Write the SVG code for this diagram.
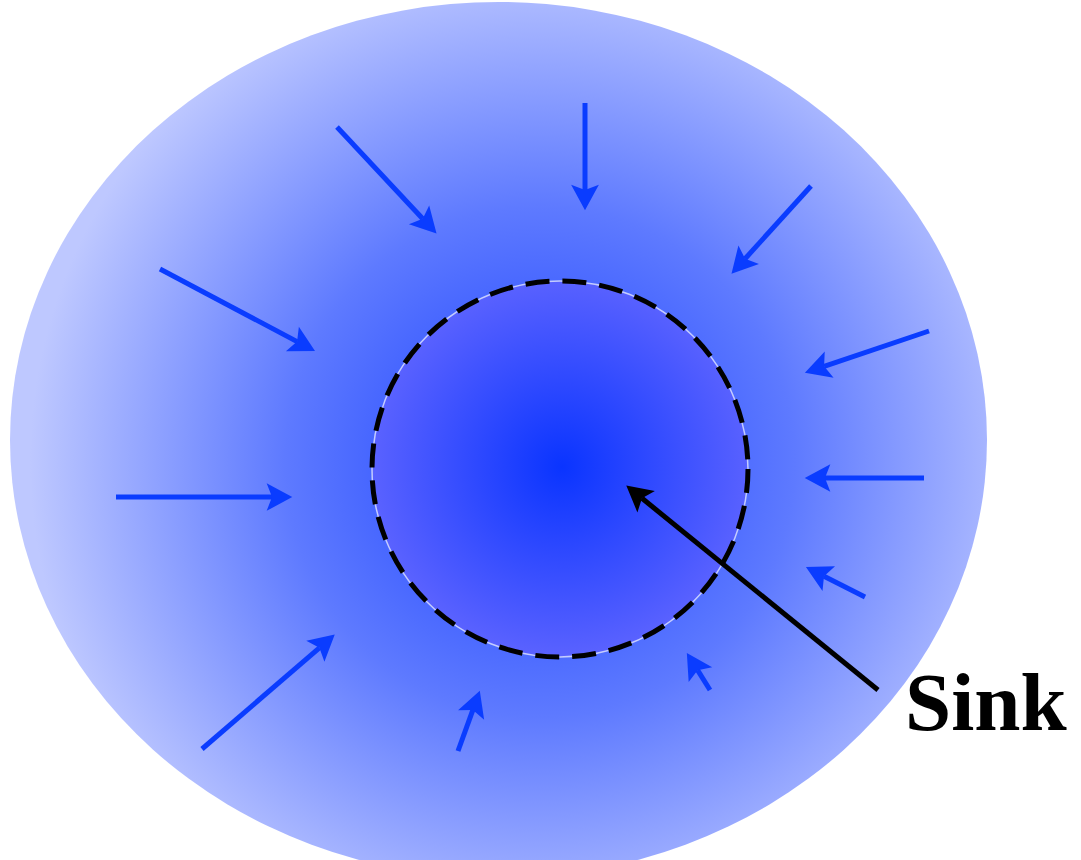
<svg xmlns="http://www.w3.org/2000/svg" width="1081" height="860" viewBox="0 0 1081 860">
  <defs>
    <radialGradient id="outerGrad" gradientUnits="userSpaceOnUse" cx="540" cy="462" r="510" fx="540" fy="462">
      <stop offset="0" stop-color="#1a40ff"/>
      <stop offset="0.5" stop-color="#5e7aff"/>
      <stop offset="1" stop-color="#bec8ff"/>
    </radialGradient>
    <radialGradient id="innerGrad" gradientUnits="userSpaceOnUse" cx="562" cy="467" r="190">
      <stop offset="0" stop-color="#0a34ff"/>
      <stop offset="1" stop-color="#5a62ff"/>
    </radialGradient>
    <marker id="blueHead" markerUnits="userSpaceOnUse" markerWidth="32" markerHeight="32" viewBox="-7 -15 28 30" refX="0" refY="0" orient="auto">
      <path d="M19,0 L-5,-13 L0,0 L-5,13 Z" fill="#0a3cff"/>
    </marker>
    <marker id="blackHead" markerUnits="userSpaceOnUse" markerWidth="32" markerHeight="32" viewBox="-7 -15 28 30" refX="0" refY="0" orient="auto">
      <path d="M19,0 L-5,-13 L0,0 L-5,13 Z" fill="#000"/>
    </marker>
    <style>
      .flow { stroke: #0a3cff; stroke-width: 5; fill: none; marker-end: url(#blueHead); }
      .pointer { stroke: #000; stroke-width: 5; fill: none; marker-end: url(#blackHead); }
      .label { font-family: "Liberation Serif", "Times New Roman", serif; font-weight: bold; font-size: 83px; fill: #000; }
    </style>
  </defs>

  <rect width="1081" height="860" fill="#ffffff"/>

  <g id="region">
    <ellipse cx="498.5" cy="440" rx="488.5" ry="438" fill="url(#outerGrad)"/>
  </g>

  <g id="sink">
    <circle cx="560" cy="469" r="188" fill="url(#innerGrad)" stroke="#c4ccff" stroke-width="1.5"/>
    <circle cx="560" cy="469" r="188" fill="none" stroke="#000" stroke-width="5" stroke-dasharray="24 13"/>
  </g>

  <g id="connectors">
    <line class="flow" x1="337" y1="127" x2="422.7" y2="218.8"/>
    <line class="flow" x1="585" y1="103" x2="585" y2="190"/>
    <line class="flow" x1="811" y1="186" x2="745.1" y2="258.7"/>
    <line class="flow" x1="160" y1="269" x2="297.1" y2="341.6"/>
    <line class="flow" x1="929" y1="331" x2="824.1" y2="366.3"/>
    <line class="flow" x1="116" y1="497" x2="272" y2="497"/>
    <line class="flow" x1="924" y1="478" x2="825" y2="478"/>
    <line class="flow" x1="865" y1="597" x2="824" y2="576.2"/>
    <line class="flow" x1="202" y1="749" x2="319.4" y2="647.8"/>
    <line class="flow" x1="458" y1="751" x2="472.9" y2="709.9"/>
    <line class="flow" x1="710" y1="690" x2="697.6" y2="670.2"/>
    <line class="pointer" x1="878" y1="690" x2="642" y2="498.3"/>
  </g>

  <g id="sink-label">
    <text class="label" x="905" y="730">Sink</text>
  </g>
</svg>
